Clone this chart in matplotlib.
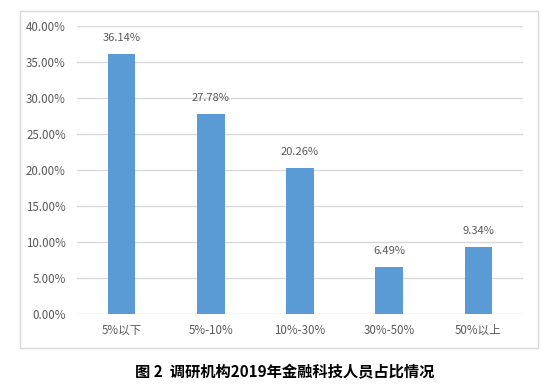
import matplotlib.pyplot as plt
from matplotlib.patches import Rectangle
from matplotlib.ticker import FuncFormatter

plt.rcParams['font.family'] = ['Noto Sans CJK SC', 'DejaVu Sans']

categories = ['5%以下', '5%-10%', '10%-30%', '30%-50%', '50%以上']
values = [36.14, 27.78, 20.26, 6.49, 9.34]
yticks = [0, 5, 10, 15, 20, 25, 30, 35, 40]

bar_color = '#5B9BD5'
text_color = '#595959'
grid_color = '#D9D9D9'

fig = plt.figure(figsize=(5.5, 3.88), dpi=100)
fig.patches.append(Rectangle((20 / 550, 1 - 348 / 388), 518 / 550, 337 / 388,
                             transform=fig.transFigure, fill=False,
                             edgecolor=grid_color, linewidth=1))

ax = fig.add_axes([77 / 550, 1 - 314 / 388, 446 / 550, 288 / 388])
x = range(len(categories))
bars = ax.bar(x, values, width=0.31, color=bar_color, zorder=3)

for xi, v in zip(x, values):
    ax.annotate(f'{v:.2f}%', (xi, v), xytext=(0, 8), textcoords='offset points',
                ha='center', va='bottom', fontsize=8, color=text_color)

ax.set_xlim(-0.5, len(categories) - 0.5)
ax.set_ylim(0, 40)
ax.set_yticks(yticks)
ax.yaxis.set_major_formatter(FuncFormatter(lambda v, p: f'{v:.2f}%'))
ax.set_xticks(list(x))
ax.set_xticklabels(categories)
ax.tick_params(axis='both', length=0, labelsize=8.3, labelcolor=text_color)
ax.tick_params(axis='x', pad=7)
ax.tick_params(axis='y', pad=8)
ax.grid(axis='y', color=grid_color, linewidth=1, zorder=0)
for s in ax.spines.values():
    s.set_visible(False)

fig.text(285 / 550, 1 - 372 / 388, '图 2  调研机构2019年金融科技人员占比情况',
         ha='center', va='center', fontsize=11, fontweight='bold', color='black')

fig.savefig('out.png', dpi=100)
